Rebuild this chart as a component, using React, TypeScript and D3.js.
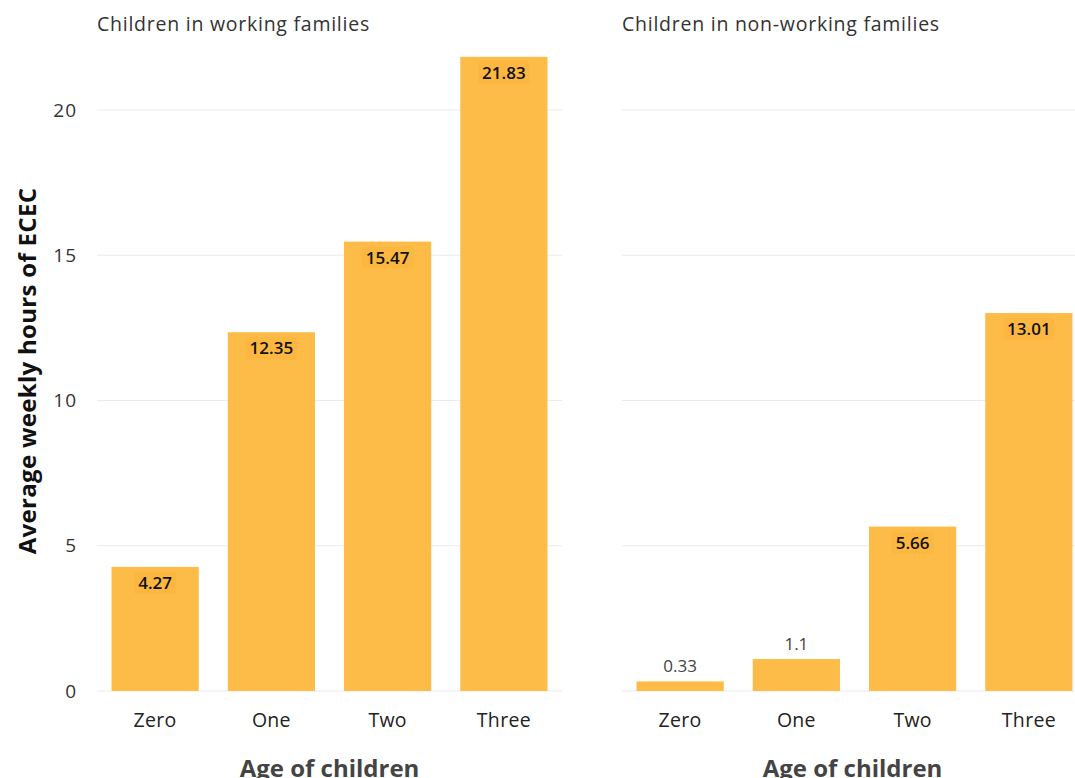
import React from "react";
import * as d3 from "d3";

const ages = ["Zero", "One", "Two", "Three"];
const workingValues = [4.27, 12.35, 15.47, 21.83];
const nonWorkingValues = [0.33, 1.1, 5.66, 13.01];
const panelTitles = ["Children in working families", "Children in non-working families"];
const yTicks = [0, 5, 10, 15, 20];

const W = 1075;
const H = 778;
const FONT = "'Open Sans', Lato, sans-serif";
const BAR = "#FDBB47";

export default function App() {
  const y = d3.scaleLinear().domain([0, 20]).range([691, 110]);
  const panels = [
    { x0: 97, x1: 562, values: workingValues, title: panelTitles[0], showY: true },
    { x0: 622, x1: 1087, values: nonWorkingValues, title: panelTitles[1], showY: false },
  ];
  return (
    <svg width={W} height={H} style={{ position: "absolute", left: 0, top: 0, background: "#fff" }} fontFamily={FONT}>
      {panels.map((p, pi) => {
        const x = d3.scaleBand<string>().domain(ages).range([p.x0, p.x1]).paddingInner(0.25).paddingOuter(0.125);
        return (
          <g key={pi}>
            <text x={p.x0} y={30.5} fontSize={19.5} letterSpacing={0.75} fill="#333">{p.title}</text>
            {yTicks.map((t) => (
              <line key={t} x1={p.x0} x2={p.x1} y1={y(t)} y2={y(t)} stroke="#EBEBEB" strokeWidth={1.2} />
            ))}
            {p.showY &&
              yTicks.map((t) => (
                <text key={t} x={77} y={y(t)} dy="0.35em" textAnchor="end" fontSize={19} letterSpacing={1} fill="#333">
                  {t}
                </text>
              ))}
            {ages.map((a, i) => {
              const v = p.values[i];
              const bx = x(a)!;
              const bw = x.bandwidth();
              const inside = v > 3;
              const ly = inside ? y(v) + 16 : y(v) - 15;
              const label = String(v);
              const tw = label.length * 9.5 + 4;
              return (
                <g key={a}>
                  <rect x={bx} y={y(v)} width={bw} height={y(0) - y(v)} fill={BAR} />
                  {inside && (
                    <rect x={bx + bw / 2 - tw / 2} y={ly - 11} width={tw} height={22} rx={3} fill="#FBB43C" opacity={0.5} />
                  )}
                  <text
                    x={bx + bw / 2}
                    y={ly}
                    dy="0.35em"
                    textAnchor="middle"
                    fontSize={17}
                    fontWeight={inside ? 600 : 400}
                    fill={inside ? "#111" : "#444"}
                  >
                    {label}
                  </text>
                  <text x={bx + bw / 2} y={720} dy="0.35em" textAnchor="middle" fontSize={19.5} letterSpacing={0.3} fill="#222">
                    {a}
                  </text>
                </g>
              );
            })}
            <text x={(p.x0 + Math.min(p.x1, 1085)) / 2 - (pi === 1 ? 1 : 0)} y={777} textAnchor="middle" fontSize={24} fontWeight={700} fill="#444">
              Age of children
            </text>
          </g>
        );
      })}
      <text
        transform={`translate(36, 371) rotate(-90)`}
        textAnchor="middle"
        fontSize={24}
        letterSpacing={0.3}
        fontWeight={700}
        fill="#111"
      >
        Average weekly hours of ECEC
      </text>
    </svg>
  );
}
